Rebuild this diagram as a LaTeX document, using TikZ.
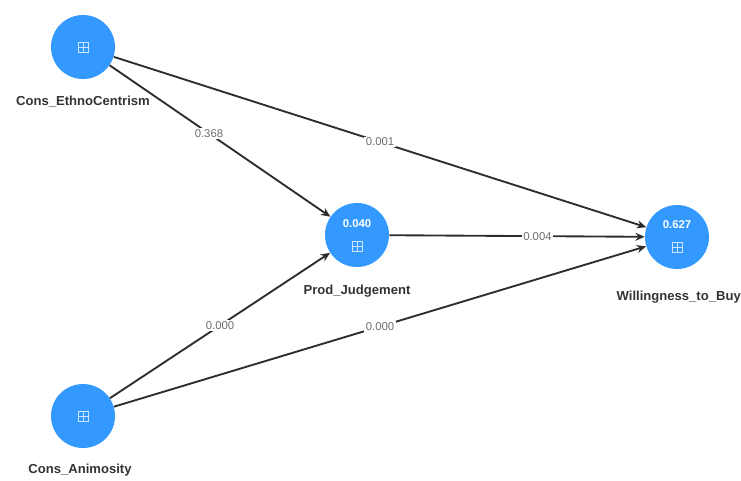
\documentclass[tikz,border=0pt]{standalone}
\usepackage{fontspec}
\setmainfont{Liberation Sans}
\usetikzlibrary{arrows.meta}
\definecolor{lvblue}{RGB}{51,153,255}
\definecolor{edgegray}{RGB}{45,45,45}
\definecolor{lblgray}{RGB}{110,110,110}
\begin{document}
\begin{tikzpicture}[x=0.75pt,y=-0.75pt,
  lv/.style={circle,fill=lvblue,minimum size=48pt,inner sep=0pt},
  lvname/.style={font=\bfseries\fontsize{9.8}{11}\selectfont,text=black!80},
  val/.style={font=\bfseries\fontsize{8.5}{9}\selectfont,text=white},
  path/.style={draw=edgegray,line width=1.4pt,-{Stealth[length=7pt,width=6pt]}},
  elbl/.style={fill=white,inner sep=1pt,font=\fontsize{8.5}{9}\selectfont,text=lblgray}]
\useasboundingbox (0,0) rectangle (741,480);
\node[lv] (ce) at (83,47) {};
\node[lv] (pj) at (357,235) {};
\node[lv] (wb) at (677,237) {};
\node[lv] (ca) at (83,416) {};
\node[lvname] (cel) at (83,102) {Cons\_EthnoCentrism};
\node[lvname] (pjl) at (357,291) {Prod\_Judgement};
\node[lvname,anchor=west] (wbl) at (612,297) {Willingness\_to\_Buy};
\node[lvname] (cal) at (80,470) {Cons\_Animosity};
\node[val] (pjv) at (357,224) {0.040};
\node[val] (wbv) at (677,225) {0.627};
\foreach \n/\dy in {ce/0,pj/11,wb/10,ca/0}{
  \draw[white!75!lvblue,line width=0.6pt] ([xshift=-3.8pt,yshift=-\dy*0.75pt-3.8pt]\n.center) rectangle ([xshift=3.8pt,yshift=-\dy*0.75pt+3.8pt]\n.center);
  \draw[white!75!lvblue,line width=0.6pt] ([xshift=-3.8pt,yshift=-\dy*0.75pt]\n.center) -- ([xshift=3.8pt,yshift=-\dy*0.75pt]\n.center);
  \draw[white!75!lvblue,line width=0.6pt] ([yshift=-\dy*0.75pt-3.8pt]\n.center) -- ([yshift=-\dy*0.75pt+3.8pt]\n.center);
}
\draw[path] (ce) -- node[elbl,pos=0.45] {0.368} (pj);
\draw[path] (ce) -- node[elbl,pos=0.5] {0.001} (wb);
\draw[path] (pj) -- node[elbl,pos=0.58] {0.004} (wb);
\draw[path] (ca) -- node[elbl,pos=0.5] {0.000} (pj);
\draw[path] (ca) -- node[elbl,pos=0.5] {0.000} (wb);
\end{tikzpicture}
\end{document}
